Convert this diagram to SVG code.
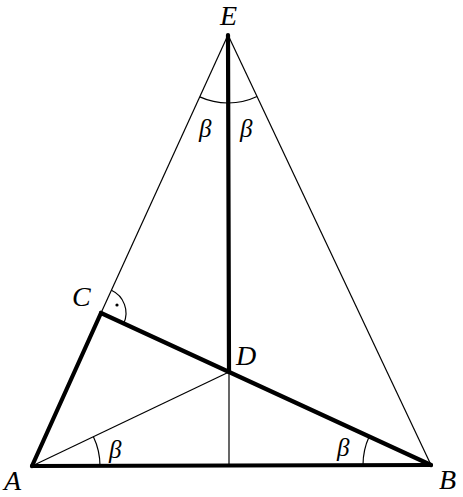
<svg xmlns="http://www.w3.org/2000/svg" width="463" height="497" viewBox="0 0 463 497">
<style>
.thin{stroke:#000;stroke-width:1.2;fill:none}
.thick{stroke:#000;stroke-width:4.2;fill:none;stroke-linecap:round;stroke-linejoin:round}
.arc{stroke:#000;stroke-width:1.2;fill:none}
.lbl{font-family:"Liberation Serif",serif;font-style:italic;font-size:28px;fill:#000}
.ang{font-family:"Liberation Serif",serif;font-style:italic;font-size:25px;fill:#000}
</style>
<rect width="463" height="497" fill="#fff"/>
<g id="connectors">
<line class="thin" x1="101" y1="313" x2="228" y2="35"/>
<line class="thin" x1="228" y1="35" x2="431" y2="465"/>
<line class="thin" x1="32" y1="466" x2="229" y2="372"/>
<line class="thin" x1="229" y1="372" x2="229" y2="466"/>
<line class="thick" x1="32" y1="466" x2="431" y2="465"/>
<line class="thick" x1="32" y1="466" x2="101" y2="313"/>
<line class="thick" x1="101" y1="313" x2="431" y2="465"/>
<line class="thick" x1="228" y1="35" x2="229" y2="372"/>
<path class="arc" d="M199.8,96.9 A68,68 0 0 0 257,96.5"/>
<path class="arc" d="M100,466 A68,68 0 0 0 93.4,436.7"/>
<path class="arc" d="M363,465 A68,68 0 0 1 369.2,436.6"/>
<path class="arc" d="M111.4,290.3 A25,25 0 0 1 123.7,323.5"/>
<circle cx="117" cy="305" r="1.6" fill="#000"/>
</g>
<g id="E"><text class="lbl" x="220" y="25">E</text></g>
<g id="C"><text class="lbl" x="72" y="306">C</text></g>
<g id="D"><text class="lbl" x="236" y="365">D</text></g>
<g id="A"><text class="lbl" x="4" y="490">A</text></g>
<g id="B"><text class="lbl" x="439" y="489">B</text></g>
<g id="angles">
<text class="ang" x="199" y="137">β</text>
<text class="ang" x="240" y="137">β</text>
<text class="ang" x="109" y="458">β</text>
<text class="ang" x="337" y="456">β</text>
</g>
</svg>
